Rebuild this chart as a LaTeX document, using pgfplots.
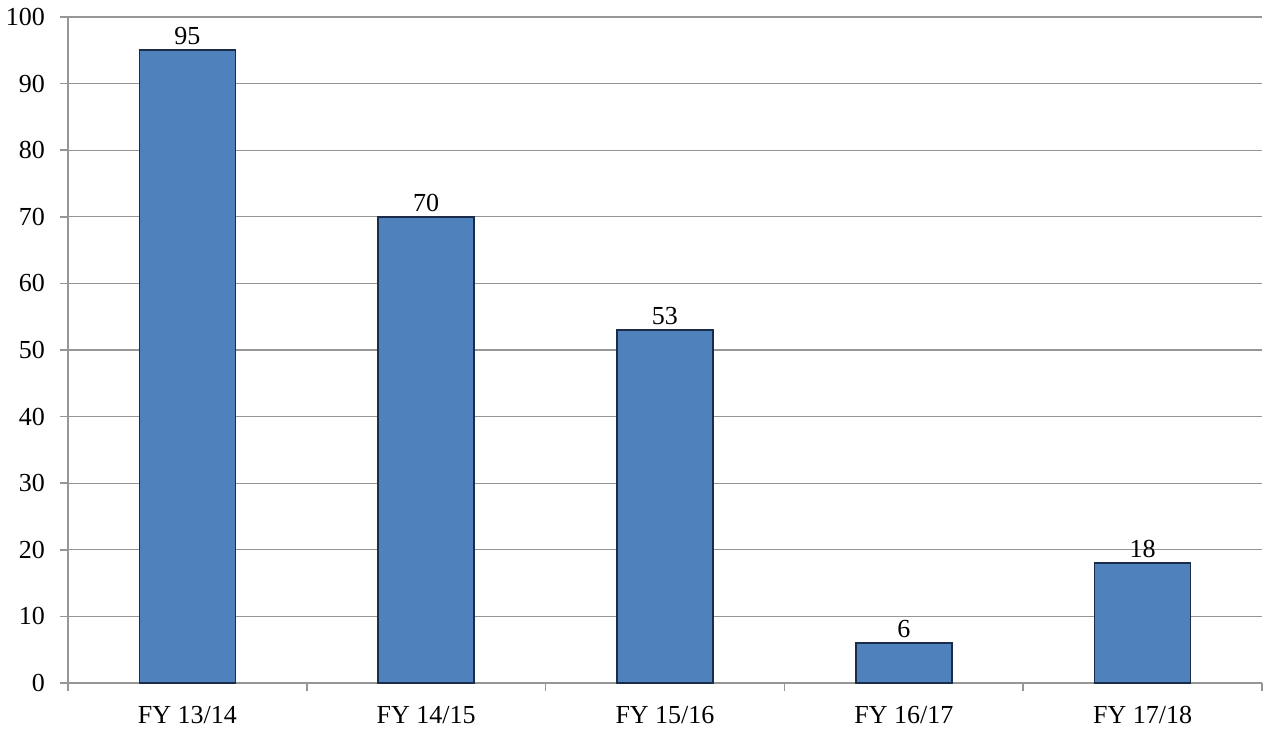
\documentclass[border=0pt]{standalone}
\usepackage{pgfplots}
\pgfplotsset{compat=1.18}
\usepackage{fontspec}
\setmainfont{Liberation Serif}
\definecolor{barfill}{RGB}{79,129,189}
\definecolor{baredge}{RGB}{26,44,72}
\definecolor{gridgray}{RGB}{150,150,150}
\begin{document}
\fontsize{13}{15}\selectfont
\begin{tikzpicture}
\begin{axis}[
    scale only axis,
    width=597pt, height=333pt,
    ybar, bar width=48pt,
    xmin=-0.5, xmax=4.5,
    ymin=0, ymax=100,
    ytick={0,10,...,100},
    xtick={-0.5,0.5,...,4.5},
    x tick label as interval,
    xticklabels={FY 13/14,FY 14/15,FY 15/16,FY 16/17,FY 17/18},
    axis x line*=bottom, axis y line*=left,
    axis line style={gridgray, line width=0.8pt, -},
    tick style={gridgray, line width=0.8pt},
    tick align=outside, major tick length=4pt,
    ymajorgrids, grid style={gridgray, line width=0.6pt},
    yticklabel style={xshift=-3pt},
    xticklabel style={yshift=-3pt},
    /pgf/number format/assume math mode=true,
    ticklabel style={font=\fontsize{13}{15}\selectfont},
    nodes near coords,
    every node near coord/.append style={font=\fontsize{13}{15}\selectfont, yshift=-2pt, black},
    clip=false,
]
\addplot[fill=barfill, draw=baredge, line width=0.8pt]
    coordinates {(0,95) (1,70) (2,53) (3,6) (4,18)};
\end{axis}
\pgfresetboundingbox
\path (-34pt,-24.5pt) rectangle (598.5pt,341.5pt);
\end{tikzpicture}
\end{document}
